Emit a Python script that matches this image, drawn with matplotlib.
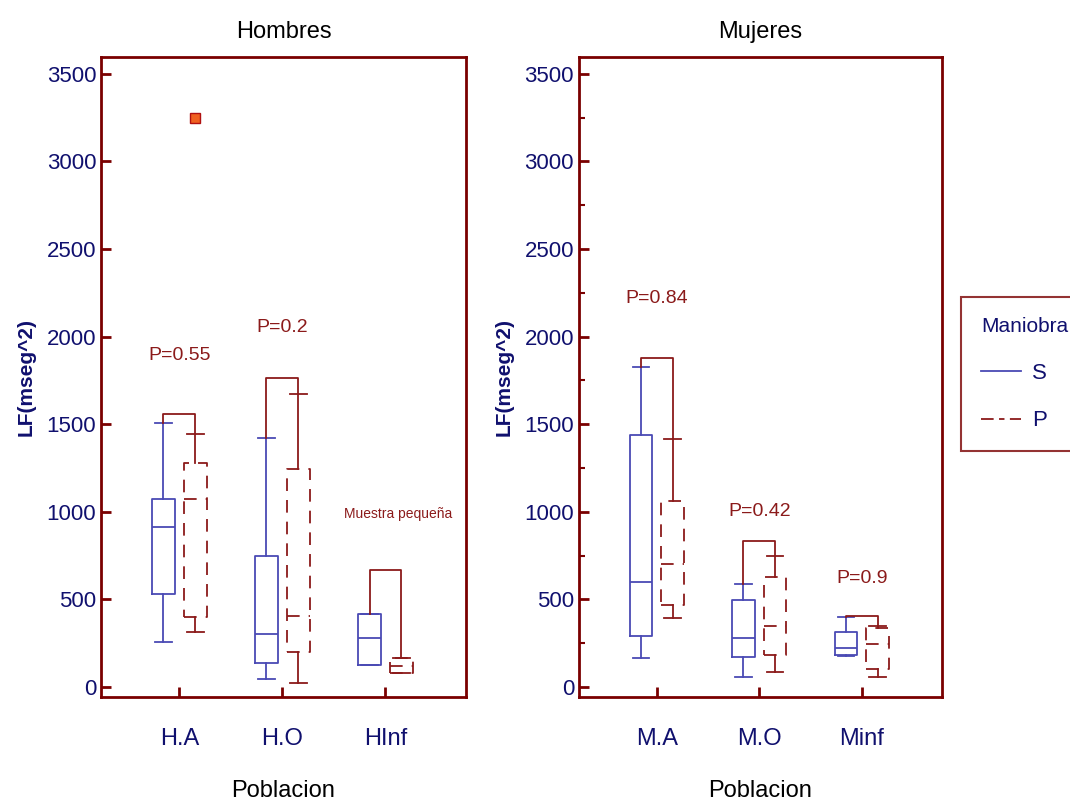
import numpy as np
import matplotlib
matplotlib.use('Agg')
import matplotlib.pyplot as plt
from matplotlib.lines import Line2D

plt.rcParams['font.family'] = ['Liberation Sans Narrow', 'Liberation Sans', 'DejaVu Sans']

# Datos (LF en mseg^2)
grupos_h = ['H.A', 'H.O', 'HInf']
grupos_m = ['M.A', 'M.O', 'Minf']

# [bigote inf, Q1, mediana, Q3, bigote sup]
h_S = [[255, 531, 913, 1073, 1505],
       [48, 139, 302, 750, 1420],
       [125, 125, 278, 415, 415]]
h_P = [[314, 400, 1075, 1280, 1445],
       [25, 200, 405, 1245, 1675],
       [78, 78, 120, 164, 164]]
m_S = [[164, 291, 597, 1438, 1825],
       [59, 173, 278, 497, 590],
       [178, 183, 221, 314, 398]]
m_P = [[396, 468, 702, 1060, 1418],
       [84, 183, 348, 630, 750],
       [59, 101, 244, 338, 348]]

h_outlier = (0, 3250)   # H.A, maniobra P

h_pval = ['P=0.55', 'P=0.2', 'Muestra pequeña']
m_pval = ['P=0.84', 'P=0.42', 'P=0.9']
h_bracket = [1558, 1763, 668]
m_bracket = [1876, 833, 407]
h_text_y = [1895, 2050, 985]
m_text_y = [2220, 1000, 622]

azul = '#4a4ab4'
rojo = '#8b1a1a'
marco = '#7a0000'
navy = '#10106e'


def stats(vals):
    return [dict(whislo=v[0], q1=v[1], med=v[2], q3=v[3], whishi=v[4], fliers=[]) for v in vals]


def panel(ax, grupos, s_vals, p_vals, pvals, bracket, text_y, titulo, menores):
    x = np.arange(1, len(grupos) + 1)
    off = 0.155
    ax.bxp(stats(s_vals), positions=x - off, widths=0.22, showfliers=False,
           boxprops=dict(color=azul, lw=1.3), whiskerprops=dict(color=azul, lw=1.3),
           capprops=dict(color=azul, lw=1.3), medianprops=dict(color=azul, lw=1.3),
           capwidths=0.16)
    ax.bxp(stats(p_vals), positions=x + off, widths=0.22, showfliers=False,
           boxprops=dict(color=rojo, lw=1.3, ls=(0, (7, 5))),
           whiskerprops=dict(color=rojo, lw=1.3),
           capprops=dict(color=rojo, lw=1.3),
           medianprops=dict(color=rojo, lw=1.3, ls=(0, (7, 5))),
           capwidths=0.16)
    for i in range(len(grupos)):
        top = bracket[i]
        ax.plot([x[i] - off, x[i] - off, x[i] + off, x[i] + off],
                [max(s_vals[i][4], s_vals[i][3]), top, top, p_vals[i][4]],
                color=rojo, lw=1.3)
        fs = 10 if pvals[i].startswith('Muestra') else 14
        ax.text(x[i] + (0.12 if fs == 10 else 0), text_y[i], pvals[i],
                ha='center', va='center', color=rojo, fontsize=fs)
    ax.set_xlim(0.24, 3.78)
    ax.set_ylim(-57, 3596)
    ax.set_xticks(x)
    ax.set_xticklabels(grupos, color=navy, fontsize=17)
    ax.set_yticks(np.arange(0, 3501, 500))
    if menores:
        ax.set_yticks(np.arange(250, 3500, 500), minor=True)
    ax.tick_params(axis='y', labelcolor=navy, labelsize=16, direction='in',
                   color=marco, width=2, length=7)
    ax.tick_params(axis='y', which='minor', direction='in', color=marco, width=1.5, length=4)
    ax.tick_params(axis='x', direction='in', color=marco, width=2, length=7, pad=22)
    for sp in ax.spines.values():
        sp.set_color(marco)
        sp.set_linewidth(2)
    ax.set_title(titulo, fontsize=17, pad=14)
    ax.set_xlabel('Poblacion', fontsize=17, labelpad=22)
    ax.set_ylabel('LF(mseg^2)', fontsize=15, color=navy, fontweight='bold', labelpad=8)


fig = plt.figure(figsize=(10.7, 8.06), dpi=100)
ax1 = fig.add_axes([0.0944, 0.1352, 0.341, 0.794])
ax2 = fig.add_axes([0.541, 0.1352, 0.339, 0.794])

panel(ax1, grupos_h, h_S, h_P, h_pval, h_bracket, h_text_y, 'Hombres', False)
panel(ax2, grupos_m, m_S, m_P, m_pval, m_bracket, m_text_y, 'Mujeres', True)

ax1.plot(h_outlier[0] + 1 + 0.155, h_outlier[1], marker='s', ms=7,
         mfc='#f06020', mec='#b01010', ls='none')

handles = [Line2D([], [], color=azul, lw=1.3),
           Line2D([], [], color=rojo, lw=1.3, ls=(0, (7, 3, 3, 3)))]
leg = fig.legend(handles, ['S', 'P'], title='Maniobra', loc='upper left',
                 bbox_to_anchor=(961 / 1070, 1 - 297 / 806), fontsize=16,
                 title_fontsize=15, frameon=True, fancybox=False,
                 edgecolor=marco, alignment='left', handlelength=1.8,
                 handletextpad=0.5, borderaxespad=0, labelspacing=1.2,
                 borderpad=0.9)
leg._legend_box.align = 'left'
leg.get_frame().set_linewidth(1.5)
leg.get_title().set_color(navy)
for t in leg.get_texts():
    t.set_color(navy)

fig.savefig('out.png', dpi=100)
